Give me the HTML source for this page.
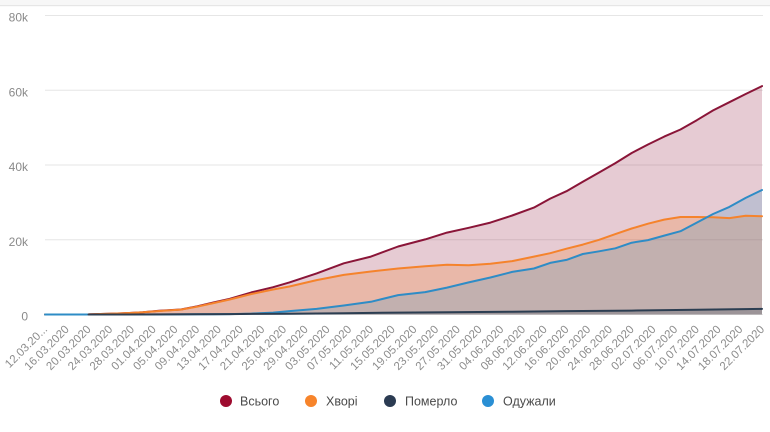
<!DOCTYPE html>
<html>
<head>
<meta charset="utf-8">
<style>
  html,body{margin:0;padding:0;background:#fff;}
  svg{display:block;font-family:"Liberation Sans","DejaVu Sans",sans-serif;}
</style>
</head>
<body>
<svg width="770" height="432" viewBox="0 0 770 432" xmlns="http://www.w3.org/2000/svg">
  <rect x="0" y="0" width="770" height="432" fill="#ffffff"/>
  <rect x="0" y="0" width="770" height="5" fill="#f7f7f7"/>
  <rect x="0" y="5" width="770" height="1.2" fill="#e6e6e6"/>

  <!-- grid -->
  <g stroke="#e6e6e6" stroke-width="1">
    <line x1="45" y1="15.5" x2="763" y2="15.5"/>
    <line x1="45" y1="90.25" x2="763" y2="90.25"/>
    <line x1="45" y1="165" x2="763" y2="165"/>
    <line x1="45" y1="239.75" x2="763" y2="239.75"/>
    <line x1="45" y1="314.5" x2="763" y2="314.5"/>
  </g>

  <!-- y labels -->
  <g fill="#8a8a8a" font-size="12" text-anchor="end">
    <text x="28" y="21.5">80k</text>
    <text x="28" y="96.5">60k</text>
    <text x="28" y="171">40k</text>
    <text x="28" y="246">20k</text>
    <text x="28" y="320.5">0</text>
  </g>

  <!-- fills -->
  <polygon fill="rgba(140,20,55,0.22)" points="45,314.5 88.5,314.4 121,313.4 142.8,312.3 159.1,310.8 180.8,309.5 197.1,306.3 213.4,302.5 229.7,298.8 251.4,292.4 273.1,287.2 289.4,282.4 316.6,273.4 343.8,263.3 370.9,256.6 398.1,246.5 425.2,239.4 447,232.6 468.7,227.8 490.4,222.6 512.2,215.5 533.9,207.6 550.2,198.6 566.5,191.2 582.8,181.8 599.1,172.5 615.4,163.1 631.7,153 648,144.5 664.2,136.6 680.5,129.5 696.8,120.2 713.1,110.4 729.4,102.2 745.7,94 762,86.1 762,314.5"/>
  <polygon fill="rgba(244,127,42,0.25)" points="45,314.5 88.5,314.4 121,313.4 142.8,312.3 159.1,311 180.8,309.6 197.1,306.7 213.4,303.1 229.7,299.5 251.4,294 273.1,289.5 289.4,286.5 316.6,280.1 343.8,274.9 370.9,271.5 398.1,268.5 425.2,266.3 447,264.8 468.7,265.2 490.4,263.7 512.2,261.1 533.9,256.6 550.2,253.2 566.5,248.7 582.8,244.6 599.1,239.8 615.4,234.1 631.7,228.5 648,223.7 664.2,219.6 680.5,217 696.8,217 713.1,217.3 729.4,218.1 745.7,215.8 762,216.2 762,314.5"/>
  <polygon fill="rgba(42,143,200,0.2)" points="45,314.5 88.5,314.5 121,314.5 142.8,314.5 159.1,314.5 180.8,314.4 197.1,314.3 213.4,314.2 229.7,314.1 251.4,313.6 273.1,312.6 289.4,311.1 316.6,308.9 343.8,305.5 370.9,301.8 398.1,295.1 425.2,292.1 447,287.6 468.7,282.4 490.4,277.5 512.2,271.9 533.9,268.5 550.2,262.9 566.5,259.9 582.8,254 599.1,251.3 615.4,248.3 631.7,242.7 648,240.1 664.2,235.6 680.5,231.2 696.8,222.6 713.1,214 729.4,206.9 745.7,197.9 762,190 762,314.5"/>
  <polygon fill="rgba(44,62,82,0.25)" points="88.5,314.5 121,314.5 159.1,314.4 197.1,314.3 229.7,314.1 251.4,313.9 289.4,313.7 343.8,313.2 398.1,312.6 447,312.2 512.2,311.7 566.5,311.1 631.7,310.6 696.8,309.8 762,308.9 762,314.5"/>

  <!-- lines -->
  <g fill="none" stroke-width="2" stroke-linejoin="round" stroke-linecap="round">
    <polyline stroke="#8a1538" points="45,314.5 88.5,314.4 121,313.4 142.8,312.3 159.1,310.8 180.8,309.5 197.1,306.3 213.4,302.5 229.7,298.8 251.4,292.4 273.1,287.2 289.4,282.4 316.6,273.4 343.8,263.3 370.9,256.6 398.1,246.5 425.2,239.4 447,232.6 468.7,227.8 490.4,222.6 512.2,215.5 533.9,207.6 550.2,198.6 566.5,191.2 582.8,181.8 599.1,172.5 615.4,163.1 631.7,153 648,144.5 664.2,136.6 680.5,129.5 696.8,120.2 713.1,110.4 729.4,102.2 745.7,94 762,86.1"/>
    <polyline stroke="#f5832c" points="45,314.5 88.5,314.4 121,313.4 142.8,312.3 159.1,311 180.8,309.6 197.1,306.7 213.4,303.1 229.7,299.5 251.4,294 273.1,289.5 289.4,286.5 316.6,280.1 343.8,274.9 370.9,271.5 398.1,268.5 425.2,266.3 447,264.8 468.7,265.2 490.4,263.7 512.2,261.1 533.9,256.6 550.2,253.2 566.5,248.7 582.8,244.6 599.1,239.8 615.4,234.1 631.7,228.5 648,223.7 664.2,219.6 680.5,217 696.8,217 713.1,217.3 729.4,218.1 745.7,215.8 762,216.2"/>
    <polyline stroke="#2e8cc6" points="45,314.5 88.5,314.5 121,314.5 142.8,314.5 159.1,314.5 180.8,314.4 197.1,314.3 213.4,314.2 229.7,314.1 251.4,313.6 273.1,312.6 289.4,311.1 316.6,308.9 343.8,305.5 370.9,301.8 398.1,295.1 425.2,292.1 447,287.6 468.7,282.4 490.4,277.5 512.2,271.9 533.9,268.5 550.2,262.9 566.5,259.9 582.8,254 599.1,251.3 615.4,248.3 631.7,242.7 648,240.1 664.2,235.6 680.5,231.2 696.8,222.6 713.1,214 729.4,206.9 745.7,197.9 762,190"/>
    <polyline stroke="#2c3e52" points="88.5,314.5 121,314.5 159.1,314.4 197.1,314.3 229.7,314.1 251.4,313.9 289.4,313.7 343.8,313.2 398.1,312.6 447,312.2 512.2,311.7 566.5,311.1 631.7,310.6 696.8,309.8 762,308.9"/>
  </g>

  <!-- x labels -->
  <g fill="#8c8c8c" font-size="11.5" text-anchor="end">
    <text transform="translate(48,330) rotate(-45)">12.03.20...</text>
    <text transform="translate(69.7,330) rotate(-45)">16.03.2020</text>
    <text transform="translate(91.5,330) rotate(-45)">20.03.2020</text>
    <text transform="translate(113.2,330) rotate(-45)">24.03.2020</text>
    <text transform="translate(134.9,330) rotate(-45)">28.03.2020</text>
    <text transform="translate(156.6,330) rotate(-45)">01.04.2020</text>
    <text transform="translate(178.4,330) rotate(-45)">05.04.2020</text>
    <text transform="translate(200.1,330) rotate(-45)">09.04.2020</text>
    <text transform="translate(221.8,330) rotate(-45)">13.04.2020</text>
    <text transform="translate(243.6,330) rotate(-45)">17.04.2020</text>
    <text transform="translate(265.3,330) rotate(-45)">21.04.2020</text>
    <text transform="translate(287.0,330) rotate(-45)">25.04.2020</text>
    <text transform="translate(308.7,330) rotate(-45)">29.04.2020</text>
    <text transform="translate(330.5,330) rotate(-45)">03.05.2020</text>
    <text transform="translate(352.2,330) rotate(-45)">07.05.2020</text>
    <text transform="translate(373.9,330) rotate(-45)">11.05.2020</text>
    <text transform="translate(395.6,330) rotate(-45)">15.05.2020</text>
    <text transform="translate(417.4,330) rotate(-45)">19.05.2020</text>
    <text transform="translate(439.1,330) rotate(-45)">23.05.2020</text>
    <text transform="translate(460.8,330) rotate(-45)">27.05.2020</text>
    <text transform="translate(482.5,330) rotate(-45)">31.05.2020</text>
    <text transform="translate(504.3,330) rotate(-45)">04.06.2020</text>
    <text transform="translate(526.0,330) rotate(-45)">08.06.2020</text>
    <text transform="translate(547.7,330) rotate(-45)">12.06.2020</text>
    <text transform="translate(569.4,330) rotate(-45)">16.06.2020</text>
    <text transform="translate(591.2,330) rotate(-45)">20.06.2020</text>
    <text transform="translate(612.9,330) rotate(-45)">24.06.2020</text>
    <text transform="translate(634.6,330) rotate(-45)">28.06.2020</text>
    <text transform="translate(656.4,330) rotate(-45)">02.07.2020</text>
    <text transform="translate(678.1,330) rotate(-45)">06.07.2020</text>
    <text transform="translate(699.8,330) rotate(-45)">10.07.2020</text>
    <text transform="translate(721.5,330) rotate(-45)">14.07.2020</text>
    <text transform="translate(743.3,330) rotate(-45)">18.07.2020</text>
    <text transform="translate(765.0,330) rotate(-45)">22.07.2020</text>
  </g>

  <!-- legend -->
  <g font-size="12.5" fill="#4a4a4a">
    <circle cx="226" cy="401" r="6" fill="#9e0b2f"/>
    <text x="240" y="405.5">Всього</text>
    <circle cx="311" cy="401" r="6" fill="#f7842b"/>
    <text x="326" y="405.5">Хворі</text>
    <circle cx="390" cy="401" r="6" fill="#2b3b52"/>
    <text x="405" y="405.5">Померло</text>
    <circle cx="488" cy="401" r="6" fill="#2a8fd4"/>
    <text x="503" y="405.5">Одужали</text>
  </g>
</svg>
</body>
</html>
